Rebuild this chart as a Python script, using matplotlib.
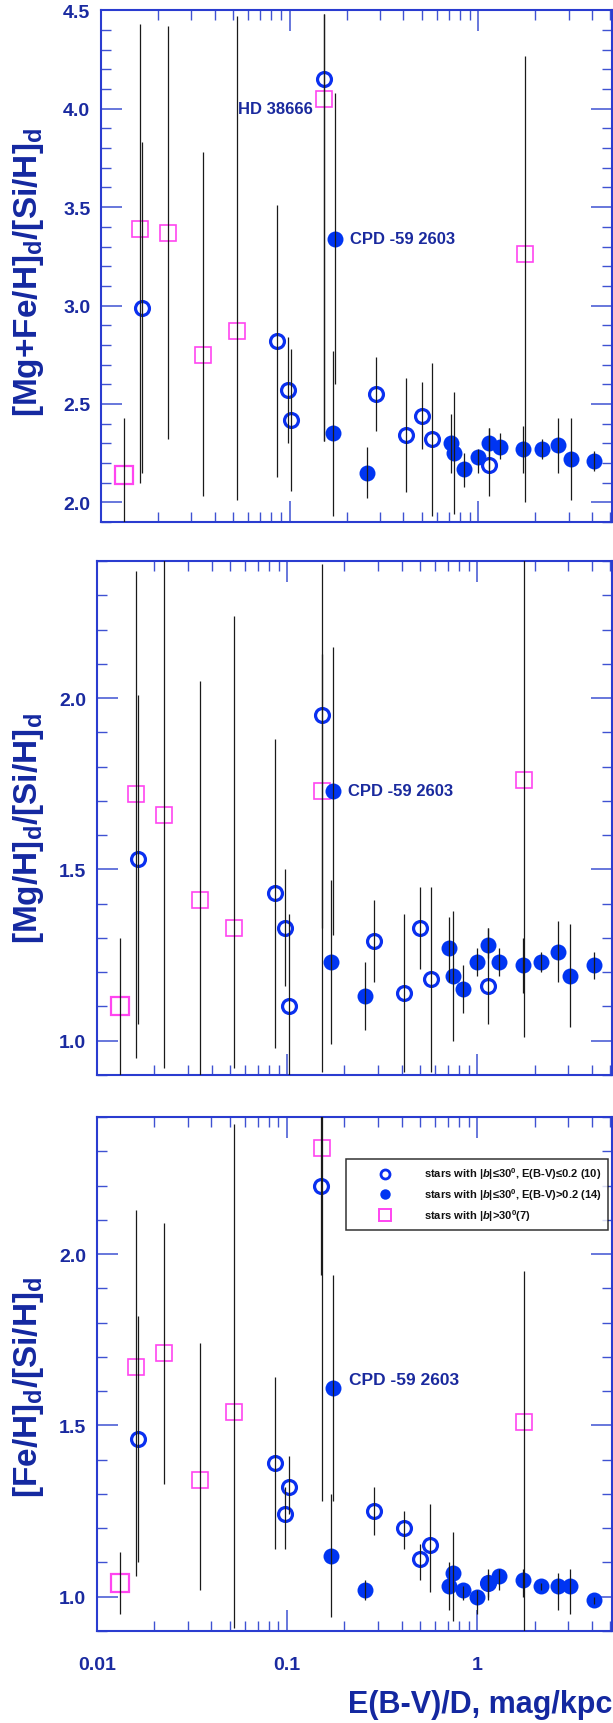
import matplotlib
matplotlib.use("Agg")
import matplotlib.pyplot as plt
from matplotlib.ticker import MultipleLocator, FixedLocator, LogLocator, NullFormatter, FormatStrFormatter
from matplotlib.lines import Line2D

plt.rcParams['font.family'] = ['Liberation Sans', 'DejaVu Sans']
plt.rcParams['font.weight'] = 'bold'
plt.rcParams['mathtext.fontset'] = 'custom'
plt.rcParams['mathtext.rm'] = 'Liberation Sans:bold'
plt.rcParams['mathtext.bf'] = 'Liberation Sans:bold'
plt.rcParams['mathtext.it'] = 'Liberation Sans:italic:bold'

# ---------------- data ----------------
# E(B-V)/D, mag/kpc
x_open = [0.0164, 0.0860, 0.0976, 0.1019, 0.1516, 0.2857, 0.411, 0.502, 0.567, 1.131]
x_filled = [0.1747, 0.1698, 0.2563, 0.711, 0.741, 0.843, 1.0, 1.143, 1.306, 1.73, 2.17, 2.646, 3.08, 4.09]
x_square = [0.0132, 0.01604, 0.02255, 0.0347, 0.0526, 0.1523, 1.755]

# [Mg+Fe/H]d/[Si/H]d
mgfe_open = [2.99, 2.82, 2.57, 2.42, 4.15, 2.55, 2.34, 2.44, 2.32, 2.19]
mgfe_open_lo = [2.15, 2.13, 2.30, 2.06, 2.31, 2.36, 2.05, 2.27, 1.93, 2.03]
mgfe_open_hi = [3.83, 3.51, 2.84, 2.78, 4.48, 2.74, 2.63, 2.61, 2.71, 2.38]
mgfe_filled = [3.34, 2.35, 2.15, 2.30, 2.25, 2.17, 2.23, 2.30, 2.28, 2.27, 2.27, 2.29, 2.22, 2.21]
mgfe_filled_lo = [2.60, 1.93, 2.02, 2.15, 1.94, 2.08, 2.15, 2.17, 2.22, 2.15, 2.22, 2.15, 2.01, 2.16]
mgfe_filled_hi = [4.08, 2.77, 2.28, 2.45, 2.56, 2.25, 2.27, 2.38, 2.35, 2.39, 2.32, 2.43, 2.43, 2.26]
mgfe_square = [2.14, 3.39, 3.37, 2.75, 2.87, 4.05, 3.26]
mgfe_square_lo = [1.85, 2.10, 2.32, 2.03, 2.01, 2.31, 2.00]
mgfe_square_hi = [2.43, 4.43, 4.42, 3.78, 4.47, 4.48, 4.27]

# [Mg/H]d/[Si/H]d
mg_open = [1.53, 1.43, 1.33, 1.10, 1.95, 1.29, 1.14, 1.33, 1.18, 1.16]
mg_open_lo = [1.05, 0.98, 1.16, 0.85, 1.33, 1.17, 0.91, 1.21, 0.91, 1.05]
mg_open_hi = [2.01, 1.88, 1.50, 1.37, 2.13, 1.41, 1.37, 1.45, 1.45, 1.33]
mg_filled = [1.73, 1.23, 1.13, 1.27, 1.19, 1.15, 1.23, 1.28, 1.23, 1.22, 1.23, 1.26, 1.19, 1.22]
mg_filled_lo = [1.31, 0.99, 1.03, 1.17, 1.00, 1.08, 1.19, 1.24, 1.19, 1.14, 1.20, 1.17, 1.04, 1.18]
mg_filled_hi = [2.15, 1.47, 1.23, 1.36, 1.38, 1.22, 1.27, 1.33, 1.27, 1.30, 1.26, 1.35, 1.34, 1.26]
mg_square = [1.10, 1.72, 1.66, 1.41, 1.33, 1.73, 1.76]
mg_square_lo = [0.85, 0.95, 0.92, 0.85, 0.92, 0.91, 1.01]
mg_square_hi = [1.30, 2.37, 2.50, 2.05, 2.24, 2.39, 2.50]

# [Fe/H]d/[Si/H]d
fe_open = [1.46, 1.39, 1.24, 1.32, 2.20, 1.25, 1.20, 1.11, 1.15, 1.04]
fe_open_lo = [1.10, 1.14, 1.14, 1.24, 1.94, 1.18, 1.14, 1.05, 1.015, 1.00]
fe_open_hi = [1.82, 1.64, 1.32, 1.41, 2.50, 1.32, 1.25, 1.155, 1.27, 1.08]
fe_filled = [1.61, 1.12, 1.02, 1.03, 1.07, 1.02, 1.00, 1.04, 1.06, 1.05, 1.03, 1.03, 1.03, 0.99]
fe_filled_lo = [1.28, 0.94, 0.99, 0.96, 0.93, 0.99, 0.95, 0.99, 1.02, 1.00, 1.02, 0.96, 0.95, 0.98]
fe_filled_hi = [1.94, 1.30, 1.05, 1.10, 1.19, 1.03, 1.02, 1.07, 1.08, 1.08, 1.04, 1.07, 1.08, 1.00]
fe_square = [1.04, 1.67, 1.71, 1.34, 1.54, 2.31, 1.51]
fe_square_lo = [0.95, 1.06, 1.33, 1.02, 0.91, 1.28, 0.90]
fe_square_hi = [1.13, 2.13, 2.09, 1.74, 2.38, 2.50, 1.95]

y_labels = [r"[Mg+Fe/H]$_{\mathrm{d}}$/[Si/H]$_{\mathrm{d}}$",
            r"[Mg/H]$_{\mathrm{d}}$/[Si/H]$_{\mathrm{d}}$",
            r"[Fe/H]$_{\mathrm{d}}$/[Si/H]$_{\mathrm{d}}$"]
legend_labels = [r"stars with |$\mathit{b}$|≤30$^{\mathrm{0}}$, E(B-V)≤0.2 (10)",
                 r"stars with |$\mathit{b}$|≤30$^{\mathrm{0}}$, E(B-V)>0.2 (14)",
                 r"stars with |$\mathit{b}$|>30$^{\mathrm{0}}$(7)"]

# ---------------- style ----------------
SPINE = '#2a3cd0'
TICKC = '#3f52d2'
LABC = '#1a2aa0'
OPENC = '#0a30f0'
FILLC = '#0035f2'
SQC = '#ff45f0'

W, H = 613, 1724
fig = plt.figure(figsize=(W / 100, H / 100), dpi=100)

def frac(l, r, t, b):
    return [l / W, 1 - b / H, (r - l) / W, (b - t) / H]

ax1 = fig.add_axes(frac(101, 612, 11.4, 523))
ax2 = fig.add_axes(frac(97, 612, 562, 1076))
ax3 = fig.add_axes(frac(96.7, 612, 1118, 1632))

panels = [
    (ax1, (1.9, 4.5), mgfe_open, mgfe_open_lo, mgfe_open_hi, mgfe_filled, mgfe_filled_lo, mgfe_filled_hi,
     mgfe_square, mgfe_square_lo, mgfe_square_hi),
    (ax2, (0.9, 2.4), mg_open, mg_open_lo, mg_open_hi, mg_filled, mg_filled_lo, mg_filled_hi,
     mg_square, mg_square_lo, mg_square_hi),
    (ax3, (0.9, 2.4), fe_open, fe_open_lo, fe_open_hi, fe_filled, fe_filled_lo, fe_filled_hi,
     fe_square, fe_square_lo, fe_square_hi),
]

for i, (ax, ylim, yo, yol, yoh, yf, yfl, yfh, ys, ysl, ysh) in enumerate(panels):
    ax.set_xscale('log')
    ax.set_xlim(0.01, 5.1)
    ax.set_ylim(*ylim)
    # markers
    ax.plot(x_square[1:], ys[1:], linestyle='none', marker='s', ms=11, mfc='none',
            mec=SQC, mew=1.2, zorder=3)
    ax.plot(x_square[:1], ys[:1], linestyle='none', marker='s', ms=13, mfc='none',
            mec=SQC, mew=1.6, zorder=3)
    ax.plot(x_open, yo, linestyle='none', marker='o', ms=10, mfc='none',
            mec=OPENC, mew=2.3, zorder=3)
    ax.plot(x_filled, yf, linestyle='none', marker='o', ms=11.5, mfc=FILLC,
            mec=FILLC, mew=0, zorder=3)
    # error bars
    for xs, lo, hi in ((x_square, ysl, ysh), (x_open, yol, yoh), (x_filled, yfl, yfh)):
        ax.vlines(xs, lo, hi, colors='#1a1a1a', linewidth=0.9, zorder=4)

    # axes styling
    for sp in ax.spines.values():
        sp.set_color(SPINE)
        sp.set_linewidth(1.5)
    ax.yaxis.set_major_locator(MultipleLocator(0.5))
    ax.yaxis.set_minor_locator(MultipleLocator(0.1))
    ax.yaxis.set_major_formatter(FormatStrFormatter('%.1f'))
    ax.xaxis.set_major_locator(FixedLocator([0.01, 0.1, 1]))
    ax.xaxis.set_minor_locator(LogLocator(base=10, subs=[2, 3, 4, 5, 6, 7, 8, 9], numticks=20))
    ax.xaxis.set_minor_formatter(NullFormatter())
    ax.tick_params(which='both', direction='in', top=True, right=True, color=TICKC)
    ax.tick_params(which='major', length=15, width=1.1)
    ax.tick_params(which='minor', length=7.5, width=1.0)
    ax.tick_params(axis='y', which='major', labelsize=14, labelcolor=LABC, pad=7.7)
    if i < 2:
        ax.tick_params(axis='x', which='both', labelbottom=False)
    else:
        ax.set_xticklabels(["0.01", "0.1", "1"])
        ax.tick_params(axis='x', which='major', labelsize=14, labelcolor=LABC, pad=18)
    for lab in ax.get_yticklabels() + ax.get_xticklabels():
        lab.set_fontweight('bold')

# y labels
for lab, yc in zip(y_labels, [272, 829, 1387.5]):
    fig.text(29 / W, 1 - yc / H, lab, rotation=90, ha='center', va='center',
             fontsize=24, color='#1428a0', fontweight='bold')

# x label
fig.text(612 / W, 1 - 1705.5 / H, "E(B-V)/D, mag/kpc", ha='right', va='center',
         fontsize=22, color='#1428a0', fontweight='bold')

# annotations
ANC = '#1a2a9e'
ax1.text(0.133, 4.0, "HD 38666", ha='right', va='center', fontsize=12, color=ANC, fontweight='bold')
ax1.text(0.208, 3.34, "CPD -59 2603", ha='left', va='center', fontsize=12, color=ANC, fontweight='bold')
ax2.text(0.208, 1.73, "CPD -59 2603", ha='left', va='center', fontsize=12, color=ANC, fontweight='bold')
ax3.text(0.212, 1.635, "CPD -59 2603", ha='left', va='center', fontsize=12.5, color=ANC, fontweight='bold')

# legend
handles = [
    Line2D([], [], linestyle='none', marker='o', ms=6.5, mfc='none', mec=OPENC, mew=2.0),
    Line2D([], [], linestyle='none', marker='o', ms=7.5, mfc=FILLC, mec=FILLC, mew=0),
    Line2D([], [], linestyle='none', marker='s', ms=8.5, mfc='none', mec=SQC, mew=1.4),
]
leg = ax3.legend(handles, legend_labels, loc='upper right', bbox_to_anchor=(0.9922, 0.9183),
                 borderaxespad=0, fontsize=8, frameon=True, fancybox=False,
                 borderpad=0.6, handlelength=5.8, handletextpad=0.6, labelspacing=0.45,
                 prop={'weight': 'bold', 'size': 8})
leg.get_frame().set_edgecolor('black')
leg.get_frame().set_linewidth(1.1)
for t in leg.get_texts():
    t.set_color('#111111')

fig.savefig("out.png", dpi=100)
